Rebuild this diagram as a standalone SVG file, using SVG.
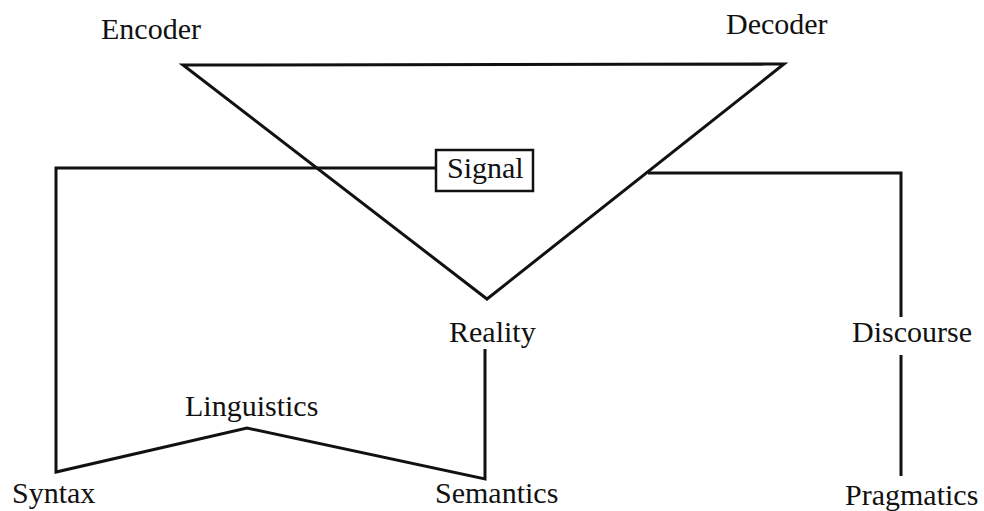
<svg xmlns="http://www.w3.org/2000/svg" width="984" height="511" viewBox="0 0 984 511">
<style>
text { font-family: "Liberation Serif", "Times New Roman", serif; font-size: 30px; fill: #111; }
.ln { fill: none; stroke: #111; stroke-width: 3; stroke-linejoin: miter; stroke-linecap: butt; }
.box { fill: #fff; stroke: #111; stroke-width: 2.5; }
</style>
<rect width="984" height="511" fill="#fff"/>
<g id="connectors">
  <polygon class="ln" points="183,65 784,64 487,299"/>
  <polyline class="ln" points="436,168 56,168 56,472 247,428 485,479 485,349"/>
  <polyline class="ln" points="648,173 901,173 901,317"/>
  <line class="ln" x1="901" y1="355" x2="901" y2="476"/>
</g>
<g id="encoder"><text x="101" y="39">Encoder</text></g>
<g id="decoder"><text x="726" y="34">Decoder</text></g>
<g id="signal">
  <rect class="box" x="436" y="150" width="97" height="41"/>
  <text x="447" y="178">Signal</text>
</g>
<g id="reality"><text x="449" y="342">Reality</text></g>
<g id="discourse"><text x="852" y="342">Discourse</text></g>
<g id="linguistics"><text x="185" y="416">Linguistics</text></g>
<g id="syntax"><text x="12" y="503">Syntax</text></g>
<g id="semantics"><text x="435" y="503">Semantics</text></g>
<g id="pragmatics"><text x="845" y="505">Pragmatics</text></g>
</svg>
